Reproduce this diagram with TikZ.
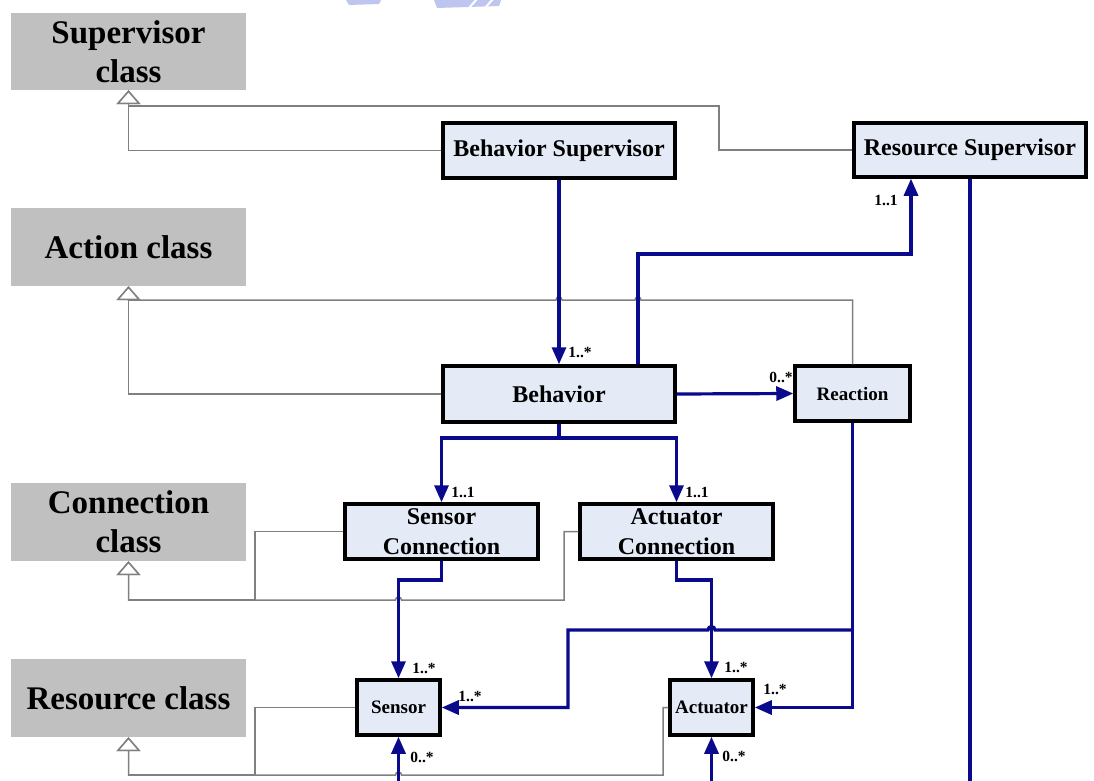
\documentclass[tikz,border=0pt]{standalone}
\usepackage{fontspec}
\setmainfont{Liberation Serif}
\usetikzlibrary{arrows.meta,calc}

\definecolor{assocblue}{RGB}{10,10,140}
\definecolor{boxfill}{RGB}{228,235,247}
\definecolor{clsgray}{RGB}{192,192,192}
\definecolor{genline}{RGB}{128,128,128}
\definecolor{wmark}{RGB}{190,198,240}

\begin{document}
\begin{tikzpicture}[x=1pt,y=-1pt,
  cls/.style={fill=clsgray, minimum width=235pt, minimum height=77pt, inner sep=0pt,
              align=center, font=\fontsize{33}{39}\selectfont\bfseries},
  klass/.style={draw=black, line width=3.5pt, fill=boxfill, inner sep=0pt, align=center,
                font=\fontsize{24}{30}\selectfont\bfseries},
  smallklass/.style={klass, font=\fontsize{19}{22}\selectfont\bfseries},
  assoc/.style={draw=assocblue, line width=3.2pt, -{Triangle[length=17pt,width=14pt]}},
  assocline/.style={draw=assocblue, line width=3.2pt},
  gen/.style={draw=genline, line width=1.5pt, -{Triangle[length=14pt,width=24pt,fill=white]}},
  mult/.style={font=\fontsize{15.5}{15.5}\selectfont\bfseries, inner sep=0pt}
]
\useasboundingbox (0,0) rectangle (1094,781);
\fill[white] (0,0) rectangle (1094,781);

% faint logo fragment along the top edge
\fill[wmark] (346,0) -- (381,0) -- (379,4) -- (349,5) -- cycle;
\fill[wmark] (434,0) -- (501,0) -- (499,6) -- (437,8) -- cycle;
\draw[white, line width=2pt] (468,9) -- (477,-1) (484,9) -- (493,-1);

% category boxes
\node[cls] (sup) at (128.5,51.5) {Supervisor\\class};
\node[cls, minimum height=78pt] (act) at (128.5,247) {Action class};
\node[cls, minimum height=78pt] (con) at (128.5,522) {Connection\\class};
\node[cls, minimum height=78pt] (res) at (128.5,698) {Resource class};

% classes
\node[klass, minimum width=232pt, minimum height=55pt] (bs) at (559,150.5) {Behavior Supervisor};
\node[klass, minimum width=232pt, minimum height=54pt] (rs) at (970,150) {Resource Supervisor};
\node[klass, minimum width=232pt, minimum height=56pt] (beh) at (559,394) {Behavior};
\node[smallklass, minimum width=115pt, minimum height=55pt] (rea) at (852.5,393.5) {Reaction};
\node[klass, minimum width=193pt, minimum height=55pt] (sc) at (441.5,531.5) {Sensor\\Connection};
\node[klass, minimum width=193pt, minimum height=55pt] (ac) at (676.5,531.5) {Actuator\\Connection};
\node[smallklass, minimum width=83pt, minimum height=55pt] (sen) at (398.5,707.5) {Sensor};
\node[smallklass, minimum width=83pt, minimum height=55pt] (actu) at (711.5,707.5) {Actuator};

% bend points
\coordinate (s1) at (719,106);
\coordinate (a1) at (852.5,300);
\coordinate (c1) at (255,600);
\coordinate (c2) at (564,600);
\coordinate (r1) at (255,775);
\coordinate (r2) at (663,775);
\coordinate (b1) at (638,254);
\coordinate (b2) at (911,254);
\coordinate (b3) at (559,438);
\coordinate (b4) at (441.5,580);
\coordinate (b5) at (676.5,580);
\coordinate (b6) at (852.5,630);
\coordinate (b7) at (568,630);
\coordinate (e1) at (398.5,781);
\coordinate (e2) at (711.5,781);
\coordinate (e3) at (970,781);

% generalizations
\draw[gen] (bs.west) -| (sup.south);
\draw[gen] (rs.west) -| (s1) -| (sup.south);
\draw[gen] (beh.west) -| (act.south);
\draw[gen] (rea.north) -- (a1) -- (641,300) .. controls (641,296) and (635,296) .. (635,300)
  -- (562,300) .. controls (562,296) and (556,296) .. (556,300) -- (act.south |- a1) -- (act.south);
\draw[gen] (sc.west) -| (c1) -| (con.south);
\draw[gen] (ac.west) -| (c2) -- (401.5,600) .. controls (401.5,596) and (395.5,596) .. (395.5,600)
  -- (con.south |- c1) -- (con.south);
\draw[gen] (sen.west) -| (r1) -| (res.south);
\draw[gen] (actu.west) -| (r2) -- (401.5,775) .. controls (401.5,771) and (395.5,771) .. (395.5,775)
  -- (res.south |- r1) -- (res.south);

% associations
\draw[assoc] (bs.south) -- (beh.north);
\draw[assoc] (beh.north -| b1) -- (b1) -- (b2) -- (rs.south -| b2);
\draw[assoc] (beh.east) -- (rea.west);
\draw[assocline] (beh.south) -- (b3);
\draw[assoc] (b3) -| (sc.north);
\draw[assoc] (b3) -| (ac.north);
\draw[assoc] (sc.south) -- (b4) -| (sen.north);
\draw[assoc] (ac.south) -- (b5) -| (actu.north);
\draw[assoc] (rea.south) -- (b6) -- (b6 |- actu.east) -- (actu.east);
\draw[assoc] (b6) -- (715,630) .. controls (715,625.5) and (708,625.5) .. (708,630)
  -- (b7) -- (b7 |- sen.east) -- (sen.east);
\draw[assoc] (e1) -- (sen.south);
\draw[assoc] (e2) -- (actu.south);
\draw[assocline] (rs.south) -- (e3);

% multiplicities
\node[mult] (m1) at (580,352) {1..*};
\node[mult] (m2) at (886,200) {1..1};
\node[mult] (m3) at (781,377) {0..*};
\node[mult] (m4) at (463,492) {1..1};
\node[mult] (m5) at (697,492) {1..1};
\node[mult] (m6) at (424,668) {1..*};
\node[mult] (m7) at (470,696) {1..*};
\node[mult] (m8) at (422,757) {0..*};
\node[mult] (m9) at (736,667) {1..*};
\node[mult] (m10) at (775,689) {1..*};
\node[mult] (m11) at (734,756) {0..*};
\end{tikzpicture}
\end{document}
